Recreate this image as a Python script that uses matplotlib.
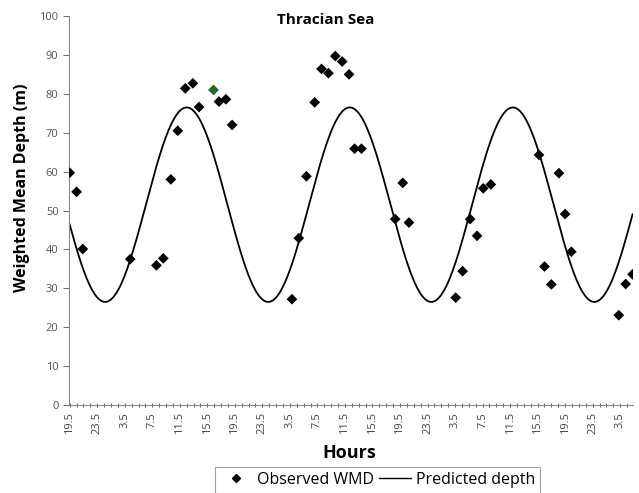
import numpy as np
import matplotlib
matplotlib.use("Agg")
import matplotlib.pyplot as plt
from matplotlib.lines import Line2D

plt.rcParams['font.family'] = ['Open Sans', 'DejaVu Sans']

# Observed weighted mean depth: elapsed hours since 19.5 h, and depth (m)
obs_hours = [0.0, 1.0, 1.9, 8.8, 12.6, 13.6, 14.7, 15.7, 16.8, 17.9, 18.8, 20.9,
             21.7, 22.7, 23.6, 32.3, 33.3, 34.4, 35.6, 36.6, 37.6, 38.6, 39.6,
             40.6, 41.4, 42.4, 47.3, 48.4, 49.3, 56.1, 57.1, 58.2, 59.2, 60.1,
             61.2, 68.2, 69.0, 70.0, 71.1, 72.0, 72.9, 79.8, 80.8, 81.8]
obs_depth = [59.7, 54.8, 40.1, 37.5, 35.9, 37.7, 58.0, 70.5, 81.4, 82.7, 76.6, 81.0,
             78.0, 78.6, 72.0, 27.2, 42.9, 58.8, 77.8, 86.4, 85.3, 89.7, 88.3,
             85.0, 65.9, 65.9, 47.8, 57.1, 46.9, 27.6, 34.4, 47.8, 43.5, 55.7,
             56.7, 64.3, 35.6, 31.0, 59.6, 49.1, 39.4, 23.1, 31.1, 33.6]
highlight_index = 11  # the one point printed in green

# Predicted depth: fitted cosine model parameters
pred_mesor = 51.5
pred_amplitude = 25.0
pred_period = 23.7
pred_peak_hour = 17.0
pred_range = (0.0, 81.8)

# Axis tick labels (hour of day, every 4 h starting at 19.5)
tick_positions = list(range(0, 81, 4))
tick_labels = ['19.5', '23.5', '3.5', '7.5', '11.5', '15.5', '19.5', '23.5', '3.5',
               '7.5', '11.5', '15.5', '19.5', '23.5', '3.5', '7.5', '11.5', '15.5',
               '19.5', '23.5', '3.5']

fig = plt.figure(figsize=(6.39, 4.93), dpi=100)
ax = fig.add_axes([0.108, 0.1785, 0.883, 0.789])

t = np.linspace(pred_range[0], pred_range[1], 600)
pred = pred_mesor + pred_amplitude * np.cos(2 * np.pi * (t - pred_peak_hour) / pred_period)
ax.plot(t, pred, color='black', lw=1.3, zorder=2)

colors = ['black'] * len(obs_hours)
colors[highlight_index] = '#1f6b1f'
ax.scatter(obs_hours, obs_depth, marker='D', s=30, c=colors, zorder=3, linewidths=0)

ax.set_xlim(-0.1, 81.9)
ax.set_ylim(0, 100)
ax.set_yticks(range(0, 101, 10))
ax.tick_params(axis='y', labelsize=8, colors='#555555', length=4, width=0.6)
ax.set_xticks(tick_positions)
ax.set_xticklabels(tick_labels, rotation=90)
ax.set_xticks(range(0, 82), minor=True)
ax.tick_params(axis='x', which='both', labelsize=8, colors='#444444', length=3, width=0.6,
               direction='inout')
for s in ['top', 'right']:
    ax.spines[s].set_visible(False)
for s in ['left', 'bottom']:
    ax.spines[s].set_color('#888888')
    ax.spines[s].set_linewidth(0.8)

fig.text(326 / 639, 1 - 20 / 493, 'Thracian Sea', ha='center', va='center',
         fontsize=11, fontweight='bold')
fig.text(22 / 639, 1 - 188 / 493, 'Weighted Mean Depth (m)', rotation=90,
         ha='center', va='center', fontsize=11.5, fontweight='bold')
fig.text(349 / 639, 1 - 453 / 493, 'Hours', ha='center', va='center',
         fontsize=13, fontweight='bold')

handles = [Line2D([], [], marker='D', color='black', ls='none', markersize=4.5),
           Line2D([], [], color='black', lw=1.0)]
leg = fig.legend(handles, ['Observed WMD', 'Predicted depth'], ncol=2,
                 loc='upper center', bbox_to_anchor=(377.5 / 639, 1 - 467 / 493),
                 fontsize=11.5, frameon=True, fancybox=False, edgecolor='#888888',
                 handlelength=2.0, handletextpad=0.3, columnspacing=0.3,
                 borderpad=0.3, borderaxespad=0)
leg.get_frame().set_linewidth(0.8)

fig.savefig('out.png', dpi=100)
